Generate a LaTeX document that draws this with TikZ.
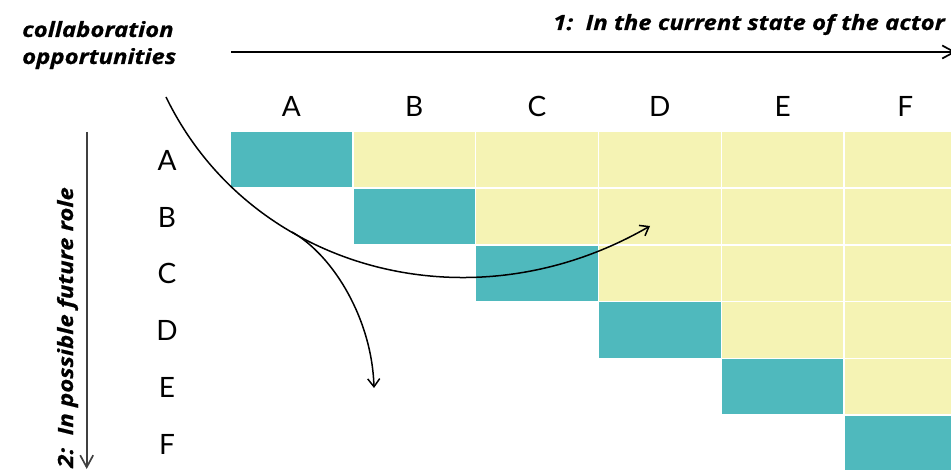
\documentclass[tikz,border=0pt]{standalone}
\usepackage{fontspec}
\setmainfont{Lato}
\newfontfamily\headfont{Open Sans}[FakeStretch=1.14,FakeBold=0.6]
\usetikzlibrary{arrows.meta}
\definecolor{cteal}{RGB}{79,185,189}
\definecolor{cyellow}{RGB}{245,243,180}
\begin{document}
\begin{tikzpicture}[x=1pt,y=-1pt,
  cellbox/.style={minimum width=121.4pt,minimum height=55.3pt,inner sep=0pt,outer sep=0pt},
  diagcell/.style={cellbox,fill=cteal},
  offcell/.style={cellbox,fill=cyellow},
  letter/.style={font=\fontsize{28}{30}\selectfont,inner sep=0pt},
  heading/.style={font=\headfont\fontsize{21}{27}\selectfont\bfseries\itshape,inner sep=0pt},
  axis/.style={line width=1.7pt,-{Straight Barb[length=12pt,width=13pt]}},
  flow/.style={line width=1.5pt,-{Straight Barb[length=8pt,width=12pt]}}]
\useasboundingbox (0,0) rectangle (951,470);
\clip (0,0) rectangle (951,470);
% grid cells
\foreach \r in {0,...,5}{
  \foreach \c in {\r,...,5}{
    \ifnum\c=\r
      \node[diagcell] (cell\r\c) at (230+122.8*\c+61.4, 131.5+56.7*\r+28.35) {};
    \else
      \node[offcell] (cell\r\c) at (230+122.8*\c+61.4, 131.5+56.7*\r+28.35) {};
    \fi
  }
}
% column and row labels
\foreach \c/\l in {0/A,1/B,2/C,3/D,4/E,5/F}{
  \node[letter] (col\l) at (230+122.8*\c+61.4, 106) {\l};
  \node[letter] (row\l) at (167, 131.5+56.7*\c+29) {\l};
}
% headings
\node[heading,anchor=base west] (collab) at (22,37) {collaboration};
\node[heading,anchor=base west] (opps) at (22,64) {opportunities};
\node[heading,anchor=base west] (xtitle) at (553,30) {1:\ \ In the current state of the actor};
\node[heading,anchor=base west,rotate=90] (ytitle) at (73,468) {2:\ \ In possible future role};
% axes
\coordinate (xs) at (231,52);
\coordinate (xe) at (956,52);
\draw[axis] (xs) -- (xe);
\coordinate (ys) at (86.7,132);
\coordinate (ye) at (86.7,469);
\draw[axis,draw=black!75] (ys) -- (ye);
% curved arrows
\coordinate (src) at (166,97);
\coordinate (tgt1) at (650,226);
\coordinate (brk) at (292,232);
\coordinate (tgt2) at (374,388);
\draw[flow] (src) .. controls (250,270) and (470,330) .. (tgt1);
\draw[flow] (brk) .. controls (334,256) and (372,320) .. (tgt2);
\end{tikzpicture}
\end{document}
